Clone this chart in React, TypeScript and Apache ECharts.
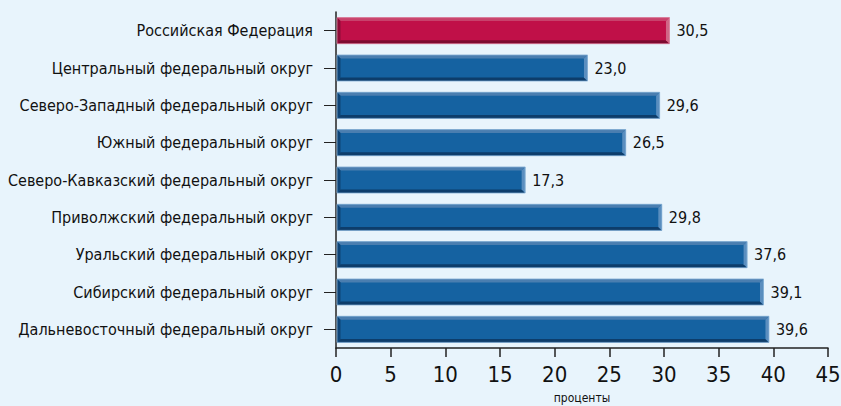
import React, { useEffect, useRef } from "react";
import * as echarts from "echarts";

const categories = [
  "Российская Федерация",
  "Центральный федеральный округ",
  "Северо-Западный федеральный округ",
  "Южный федеральный округ",
  "Северо-Кавказский федеральный округ",
  "Приволжский федеральный округ",
  "Уральский федеральный округ",
  "Сибирский федеральный округ",
  "Дальневосточный федеральный округ",
];
const values = [30.5, 23.0, 29.6, 26.5, 17.3, 29.8, 37.6, 39.1, 39.6];
const xTicks = { min: 0, max: 45, interval: 5 };
const axisName = "проценты";

const FONT = '"Liberation Sans Narrow", "DejaVu Sans Condensed", sans-serif';

const palettes = {
  red: { base: "#c01048", top: "#c8426c", bottom: "#7c0a30", right: "#d06686", left: "#8e0c38", edge: "#dc8aa4" },
  blue: { base: "#1562a1", top: "#4a7eb0", bottom: "#0d3d6b", right: "#5a8ebf", left: "#0e4477", edge: "#8cb4d8" },
};

export default function App() {
  const ref = useRef<HTMLDivElement>(null);
  useEffect(() => {
    document.body.style.margin = "0";
    const chart = echarts.init(ref.current!, null, { renderer: "svg" });
    const data = values.map((v, i) => [v, i]);
    chart.setOption({
      animation: false,
      backgroundColor: "#e8f4fc",
      grid: { left: 336, right: 13, top: 12, bottom: 58, containLabel: false, outerBoundsMode: "none" },
      xAxis: {
        type: "value",
        min: xTicks.min,
        max: xTicks.max,
        interval: xTicks.interval,
        axisLine: { show: true, lineStyle: { color: "#222", width: 1.5 } },
        axisTick: { show: true, length: 9, lineStyle: { color: "#222", width: 1.5 } },
        splitLine: { show: false },
        axisLabel: { fontSize: 22, color: "#111", margin: 15, fontFamily: FONT },
        name: axisName,
        nameLocation: "middle",
        nameGap: 44,
        nameTextStyle: { fontSize: 12, color: "#111", fontFamily: FONT },
      },
      yAxis: {
        type: "category",
        data: categories,
        inverse: true,
        axisLine: { show: true, lineStyle: { color: "#222", width: 1.5 } },
        axisTick: { show: true, alignWithLabel: true, length: 12, lineStyle: { color: "#222", width: 1 } },
        axisLabel: { fontSize: 16, color: "#111", margin: 23, fontFamily: FONT },
      },
      series: [
        {
          type: "custom",
          encode: { x: 0, y: 1 },
          data,
          renderItem: (params: any, api: any) => {
            const v = api.value(0);
            const idx = api.value(1);
            const start = api.coord([0, idx]);
            const end = api.coord([v, idx]);
            const band = api.size([0, 1])[1];
            const h = band * 0.7;
            const p = idx === 0 ? palettes.red : palettes.blue;
            const x0 = start[0] + 1;
            const x1 = end[0];
            const yT = start[1] - h / 2;
            const yB = start[1] + h / 2;
            const b = 3.5;
            const label = v.toFixed(1).replace(".", ",");
            return {
              type: "group",
              children: [
                { type: "rect", shape: { x: x0, y: yT, width: x1 - x0, height: h }, style: { fill: p.base } },
                { type: "polygon", shape: { points: [[x0, yT], [x1, yT], [x1 - b, yT + b], [x0 + b, yT + b]] }, style: { fill: p.top } },
                { type: "polygon", shape: { points: [[x0, yB], [x1, yB], [x1 - b, yB - b], [x0 + b, yB - b]] }, style: { fill: p.bottom } },
                { type: "polygon", shape: { points: [[x1, yT], [x1, yB], [x1 - b, yB - b], [x1 - b, yT + b]] }, style: { fill: p.right } },
                { type: "polygon", shape: { points: [[x0, yT], [x0, yB], [x0 + b, yB - b], [x0 + b, yT + b]] }, style: { fill: p.left } },
                { type: "rect", shape: { x: x0, y: yT, width: x1 - x0, height: h }, style: { fill: "none", stroke: p.edge, lineWidth: 0.8 } },
                {
                  type: "text",
                  style: {
                    text: label,
                    x: x1 + 7,
                    y: start[1],
                    textVerticalAlign: "middle",
                    verticalAlign: "middle",
                    fontSize: 16,
                    fontFamily: FONT,
                    fill: "#111",
                  },
                },
              ],
            };
          },
        },
      ],
    });
    return () => chart.dispose();
  }, []);
  return <div ref={ref} style={{ width: 841, height: 406 }} />;
}
